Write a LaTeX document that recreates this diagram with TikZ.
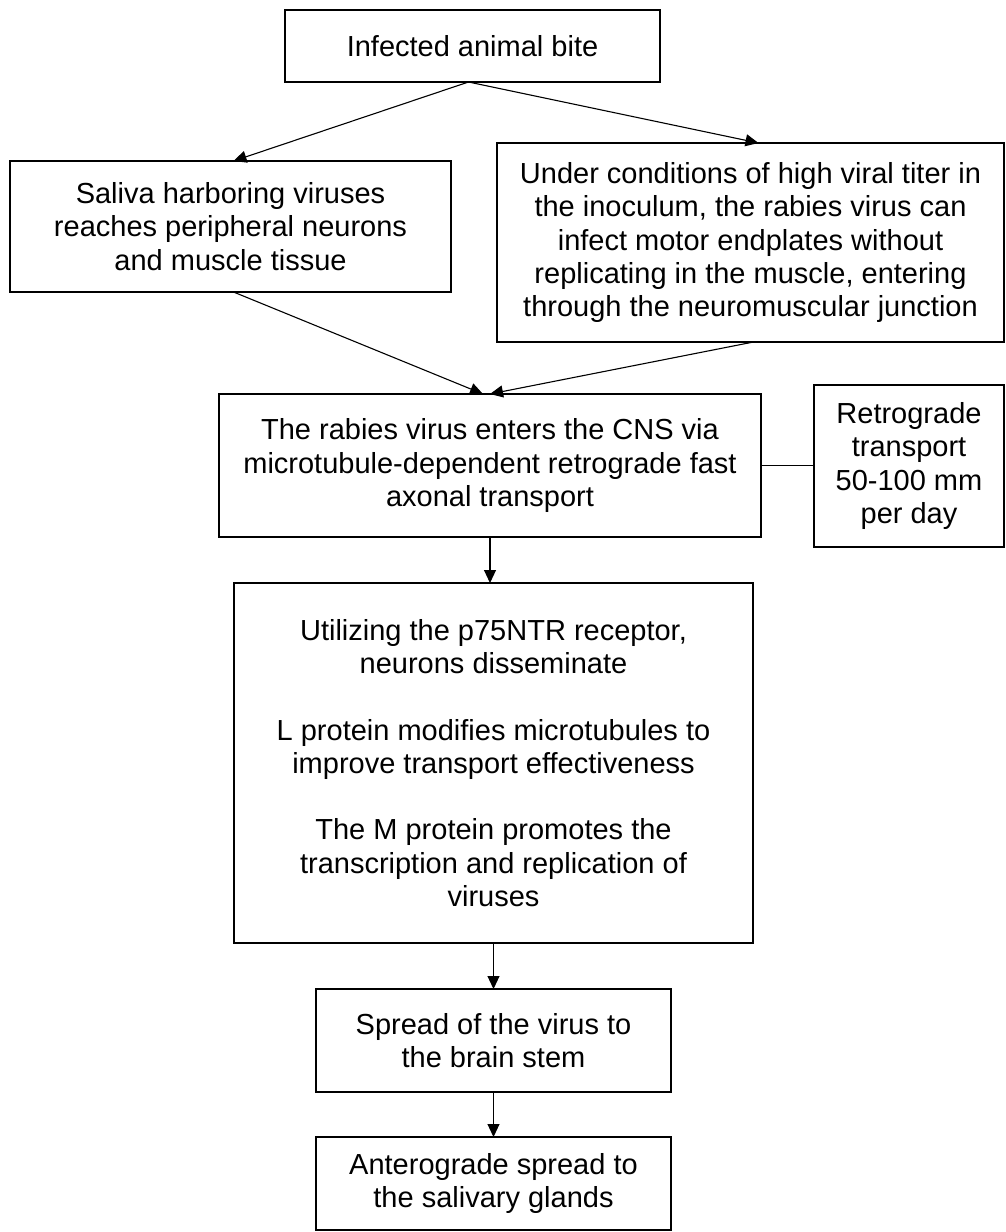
\documentclass[tikz,border=0pt]{standalone}
\usepackage{fontspec}
\setmainfont{Liberation Sans}
\usetikzlibrary{arrows.meta}
\begin{document}
\begin{tikzpicture}[x=1pt,y=-1pt,
  box/.style={draw, line width=2.4pt, inner sep=0pt, outer sep=0pt,
    align=center, font=\fontsize{29}{33.3}\selectfont},
  arr/.style={line width=1.1pt, -{Triangle[length=13pt,width=12pt]}},
  link/.style={line width=1.1pt}]
\useasboundingbox (0,0) rectangle (1006,1232);

% boxes of the flow chart
\node[box, minimum width=375pt, minimum height=72pt] (b1) at (472.5,46)
  {Infected animal bite};
\node[box, minimum width=441pt, minimum height=131pt] (b2) at (230.5,226.5)
  {Saliva harboring viruses\\ reaches peripheral neurons\\ and muscle tissue};
\node[box, minimum width=507pt, minimum height=199pt] (b3) at (750.5,242.5)
  {Under conditions of high viral titer in\\ the inoculum, the rabies virus can\\
   infect motor endplates without\\ replicating in the muscle, entering\\
   through the neuromuscular junction};
\node[box, minimum width=542pt, minimum height=143pt] (b4) at (490,465.5)
  {The rabies virus enters the CNS via\\ microtubule-dependent retrograde fast\\
   axonal transport};
\node[box, minimum width=190pt, minimum height=162pt] (b5) at (909,466)
  {Retrograde\\ transport\\ 50-100 mm\\ per day};
\node[box, minimum width=519pt, minimum height=360pt] (b6) at (493.5,763)
  {Utilizing the p75NTR receptor,\\ neurons disseminate\\[33.3pt]
   L protein modifies microtubules to\\ improve transport effectiveness\\[33.3pt]
   The M protein promotes the\\ transcription and replication of\\ viruses};
\node[box, minimum width=355pt, minimum height=103pt] (b7) at (493.5,1040.5)
  {Spread of the virus to\\ the brain stem};
\node[box, minimum width=355pt, minimum height=93pt] (b8) at (493.5,1183.5)
  {Anterograde spread to\\ the salivary glands};

% connectors
\draw[arr] ([xshift=-4pt]b1.south) -- ([xshift=3pt]b2.north);
\draw[arr] ([xshift=-4pt]b1.south) -- ([xshift=8pt]b3.north);
\draw[arr] ([xshift=3pt]b2.south) -- ([xshift=-7pt]b4.north);
\draw[arr] ([xshift=3pt]b3.south) -- (b4.north);
\draw[link] (b4.east) -- (b4.east -| b5.west);
\draw[arr] (b4.south) -- (b4.south |- b6.north);
\draw[arr] (b6.south) -- (b7.north);
\draw[arr] (b7.south) -- (b8.north);
\end{tikzpicture}
\end{document}
